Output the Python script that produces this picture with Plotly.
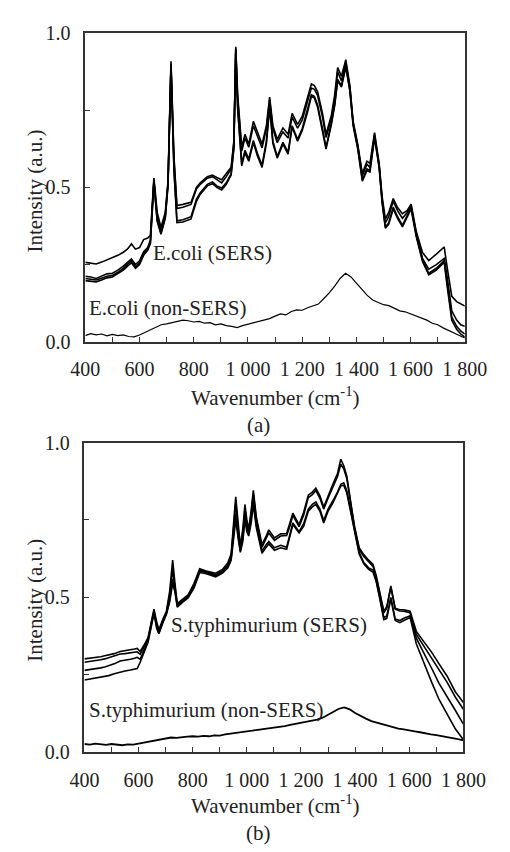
import plotly.graph_objects as go

# ---------------- Panel (a): E.coli ----------------
wn_a = [400, 420, 440, 460, 480, 500, 520, 540, 555, 570, 585, 600, 615, 630, 640, 653, 665, 679, 695, 705,
        716, 727, 738, 760, 790, 810, 824, 850, 869, 885, 903, 920, 938, 948, 955, 962, 977, 989, 1003, 1020,
        1035, 1052, 1068, 1080, 1092, 1108, 1129, 1148, 1163, 1183, 1200, 1220, 1234, 1245, 1257, 1275, 1288,
        1308, 1320, 1331, 1345, 1361, 1376, 1388, 1405, 1422, 1439, 1450, 1467, 1484, 1495, 1507, 1519, 1536,
        1552, 1570, 1587, 1602, 1621, 1644, 1667, 1695, 1715, 1724, 1735, 1752, 1770, 1785, 1800]

ecoli_sers_1 = [0.257, 0.255, 0.252, 0.258, 0.265, 0.271, 0.280, 0.290, 0.300, 0.317, 0.300, 0.305, 0.331, 0.336,
                0.345, 0.530, 0.420, 0.370, 0.420, 0.520, 0.909, 0.600, 0.441, 0.445, 0.452, 0.500, 0.515, 0.535,
                0.540, 0.532, 0.525, 0.545, 0.565, 0.650, 0.956, 0.800, 0.630, 0.672, 0.640, 0.714, 0.680, 0.640,
                0.700, 0.793, 0.700, 0.656, 0.693, 0.672, 0.740, 0.704, 0.730, 0.790, 0.835, 0.830, 0.810, 0.740,
                0.672, 0.735, 0.800, 0.888, 0.860, 0.914, 0.830, 0.714, 0.640, 0.545, 0.585, 0.578, 0.678, 0.578,
                0.470, 0.398, 0.418, 0.464, 0.435, 0.415, 0.425, 0.446, 0.357, 0.289, 0.263, 0.284, 0.300, 0.307,
                0.241, 0.147, 0.130, 0.122, 0.116]
ecoli_sers_2 = [0.212, 0.210, 0.205, 0.212, 0.220, 0.222, 0.232, 0.245, 0.255, 0.268, 0.250, 0.262, 0.292, 0.305,
                0.330, 0.525, 0.405, 0.360, 0.410, 0.515, 0.900, 0.590, 0.432, 0.436, 0.445, 0.495, 0.510, 0.530,
                0.535, 0.525, 0.515, 0.535, 0.560, 0.645, 0.950, 0.790, 0.618, 0.660, 0.630, 0.700, 0.665, 0.628,
                0.690, 0.785, 0.690, 0.645, 0.680, 0.660, 0.728, 0.692, 0.718, 0.778, 0.822, 0.818, 0.798, 0.728,
                0.662, 0.722, 0.785, 0.875, 0.845, 0.905, 0.825, 0.710, 0.635, 0.538, 0.575, 0.565, 0.672, 0.572,
                0.462, 0.385, 0.405, 0.455, 0.425, 0.400, 0.418, 0.440, 0.350, 0.270, 0.235, 0.250, 0.262, 0.270,
                0.210, 0.100, 0.070, 0.055, 0.050]
ecoli_sers_3 = [0.205, 0.203, 0.200, 0.206, 0.212, 0.215, 0.225, 0.238, 0.250, 0.263, 0.243, 0.255, 0.285, 0.300,
                0.322, 0.520, 0.395, 0.352, 0.405, 0.510, 0.895, 0.560, 0.392, 0.395, 0.405, 0.462, 0.483, 0.510,
                0.518, 0.505, 0.498, 0.515, 0.545, 0.630, 0.945, 0.760, 0.578, 0.620, 0.592, 0.652, 0.610, 0.572,
                0.650, 0.765, 0.650, 0.600, 0.646, 0.614, 0.700, 0.656, 0.690, 0.750, 0.800, 0.795, 0.767, 0.690,
                0.630, 0.710, 0.770, 0.850, 0.830, 0.895, 0.815, 0.705, 0.630, 0.525, 0.560, 0.555, 0.665, 0.568,
                0.455, 0.372, 0.385, 0.436, 0.405, 0.378, 0.410, 0.435, 0.345, 0.265, 0.222, 0.238, 0.255, 0.263,
                0.190, 0.080, 0.050, 0.035, 0.025]
ecoli_sers_4 = [0.198, 0.197, 0.194, 0.200, 0.207, 0.210, 0.220, 0.232, 0.244, 0.256, 0.238, 0.250, 0.280, 0.296,
                0.318, 0.515, 0.390, 0.348, 0.400, 0.505, 0.890, 0.555, 0.386, 0.388, 0.398, 0.455, 0.478, 0.505,
                0.512, 0.500, 0.492, 0.510, 0.540, 0.625, 0.940, 0.755, 0.570, 0.612, 0.585, 0.645, 0.602, 0.565,
                0.642, 0.758, 0.642, 0.595, 0.640, 0.608, 0.695, 0.650, 0.684, 0.744, 0.795, 0.790, 0.760, 0.684,
                0.624, 0.705, 0.765, 0.845, 0.825, 0.890, 0.812, 0.700, 0.625, 0.520, 0.555, 0.550, 0.660, 0.565,
                0.450, 0.368, 0.380, 0.430, 0.400, 0.372, 0.405, 0.430, 0.340, 0.260, 0.217, 0.232, 0.250, 0.258,
                0.180, 0.070, 0.040, 0.025, 0.015]

wn_plain = list(range(400, 1801, 20))
ecoli_nonsers = [0.020, 0.026, 0.022, 0.025, 0.019, 0.024, 0.020, 0.022, 0.017, 0.016, 0.022, 0.030, 0.040, 0.048,
                 0.055, 0.058, 0.062, 0.066, 0.070, 0.068, 0.064, 0.066, 0.060, 0.062, 0.055, 0.058, 0.052, 0.050,
                 0.046, 0.052, 0.057, 0.060, 0.066, 0.070, 0.075, 0.083, 0.090, 0.087, 0.098, 0.103, 0.102, 0.110,
                 0.115, 0.122, 0.140, 0.158, 0.180, 0.205, 0.222, 0.210, 0.190, 0.170, 0.150, 0.135, 0.128, 0.120,
                 0.117, 0.108, 0.100, 0.097, 0.090, 0.085, 0.078, 0.070, 0.060, 0.055, 0.045, 0.036, 0.028, 0.020,
                 0.012]

# ---------------- Panel (b): S.typhimurium ----------------
wn_b = [400, 420, 440, 460, 475, 490, 510, 532, 550, 570, 585, 595, 606, 620, 635, 647, 657, 667, 675, 690, 703,
        715, 726, 735, 743, 760, 783, 805, 826, 850, 870, 885, 910, 930, 942, 950, 959, 968, 976, 985, 993, 1000,
        1007, 1016, 1024, 1035, 1056, 1070, 1081, 1102, 1125, 1147, 1160, 1170, 1193, 1210, 1227, 1242, 1255,
        1270, 1284, 1300, 1318, 1335, 1347, 1358, 1369, 1385, 1398, 1415, 1432, 1450, 1466, 1478, 1489, 1506,
        1517, 1532, 1548, 1565, 1580, 1603, 1626, 1655, 1683, 1710, 1740, 1770, 1800]

styph_sers_1 = [0.301, 0.303, 0.305, 0.308, 0.311, 0.314, 0.318, 0.325, 0.327, 0.330, 0.333, 0.335, 0.325, 0.345,
                0.370, 0.420, 0.462, 0.420, 0.395, 0.430, 0.455, 0.520, 0.620, 0.540, 0.480, 0.492, 0.508, 0.545,
                0.592, 0.585, 0.582, 0.578, 0.590, 0.612, 0.640, 0.720, 0.825, 0.740, 0.665, 0.720, 0.800, 0.750,
                0.720, 0.780, 0.846, 0.760, 0.670, 0.695, 0.718, 0.692, 0.705, 0.706, 0.740, 0.772, 0.735, 0.775,
                0.830, 0.840, 0.853, 0.828, 0.792, 0.830, 0.866, 0.900, 0.946, 0.925, 0.893, 0.800, 0.728, 0.660,
                0.638, 0.620, 0.606, 0.570, 0.520, 0.455, 0.470, 0.537, 0.465, 0.460, 0.460, 0.455, 0.390, 0.355,
                0.322, 0.285, 0.245, 0.195, 0.160]
styph_sers_2 = [0.290, 0.292, 0.294, 0.298, 0.301, 0.305, 0.310, 0.317, 0.318, 0.320, 0.322, 0.324, 0.316, 0.338,
                0.365, 0.415, 0.458, 0.410, 0.388, 0.425, 0.450, 0.505, 0.590, 0.530, 0.476, 0.488, 0.505, 0.540,
                0.588, 0.582, 0.578, 0.574, 0.585, 0.605, 0.632, 0.705, 0.805, 0.720, 0.658, 0.705, 0.785, 0.738,
                0.715, 0.770, 0.835, 0.750, 0.662, 0.688, 0.708, 0.684, 0.698, 0.700, 0.732, 0.765, 0.728, 0.766,
                0.822, 0.832, 0.845, 0.820, 0.785, 0.820, 0.855, 0.890, 0.930, 0.915, 0.885, 0.795, 0.725, 0.655,
                0.632, 0.615, 0.600, 0.565, 0.515, 0.450, 0.465, 0.532, 0.462, 0.456, 0.455, 0.450, 0.380, 0.340,
                0.305, 0.268, 0.225, 0.178, 0.138]
styph_sers_3 = [0.264, 0.266, 0.268, 0.272, 0.275, 0.279, 0.285, 0.294, 0.296, 0.300, 0.303, 0.306, 0.300, 0.330,
                0.360, 0.410, 0.452, 0.405, 0.385, 0.420, 0.448, 0.490, 0.560, 0.520, 0.472, 0.485, 0.502, 0.535,
                0.585, 0.580, 0.575, 0.570, 0.582, 0.600, 0.625, 0.690, 0.770, 0.700, 0.650, 0.690, 0.765, 0.725,
                0.705, 0.755, 0.815, 0.735, 0.650, 0.668, 0.680, 0.660, 0.668, 0.662, 0.705, 0.740, 0.712, 0.738,
                0.785, 0.800, 0.808, 0.785, 0.748, 0.785, 0.812, 0.840, 0.865, 0.870, 0.845, 0.775, 0.712, 0.645,
                0.612, 0.595, 0.588, 0.555, 0.508, 0.435, 0.440, 0.500, 0.430, 0.425, 0.432, 0.440, 0.368, 0.320,
                0.270, 0.222, 0.180, 0.135, 0.090]
styph_sers_4 = [0.233, 0.236, 0.238, 0.241, 0.243, 0.247, 0.253, 0.259, 0.262, 0.265, 0.268, 0.270, 0.290, 0.322,
                0.355, 0.405, 0.448, 0.400, 0.382, 0.418, 0.445, 0.485, 0.545, 0.515, 0.468, 0.482, 0.498, 0.530,
                0.580, 0.576, 0.570, 0.566, 0.578, 0.595, 0.620, 0.680, 0.750, 0.690, 0.645, 0.680, 0.750, 0.712,
                0.698, 0.740, 0.800, 0.725, 0.642, 0.660, 0.672, 0.652, 0.660, 0.655, 0.698, 0.735, 0.708, 0.730,
                0.778, 0.792, 0.800, 0.778, 0.740, 0.778, 0.805, 0.835, 0.860, 0.862, 0.838, 0.770, 0.708, 0.640,
                0.608, 0.590, 0.582, 0.550, 0.505, 0.428, 0.432, 0.495, 0.425, 0.418, 0.425, 0.435, 0.350, 0.285,
                0.225, 0.170, 0.120, 0.075, 0.040]

styph_nonsers = [0.026, 0.024, 0.027, 0.025, 0.023, 0.026, 0.024, 0.022, 0.025, 0.024, 0.027, 0.030, 0.034, 0.038,
                 0.041, 0.044, 0.047, 0.046, 0.049, 0.050, 0.051, 0.050, 0.052, 0.051, 0.054, 0.053, 0.057, 0.059,
                 0.062, 0.064, 0.066, 0.069, 0.072, 0.074, 0.077, 0.079, 0.082, 0.084, 0.088, 0.091, 0.094, 0.097,
                 0.101, 0.105, 0.111, 0.120, 0.131, 0.140, 0.144, 0.138, 0.126, 0.116, 0.108, 0.100, 0.095, 0.090,
                 0.085, 0.080, 0.076, 0.073, 0.069, 0.067, 0.064, 0.060, 0.057, 0.055, 0.052, 0.050, 0.046, 0.042,
                 0.038]

x_tickvals = list(range(400, 1801, 100))
x_ticktext = ["400", "", "600", "", "800", "", "1 000", "", "1 200", "", "1 400", "", "1 600", "", "1 800"]
y_tickvals = [0, 0.25, 0.5, 0.75, 1.0]
y_ticktext = ["0.0", "", "0.5", "", "1.0"]

W, H = 510, 852
FONT = "Liberation Serif"
TXT = "#222222"

fig = go.Figure()

def add(xs, ys, xa, ya, width):
    fig.add_trace(go.Scatter(x=xs, y=ys, xaxis=xa, yaxis=ya, mode="lines",
                             line=dict(color="black", width=width), showlegend=False, hoverinfo="skip"))

for s in [ecoli_sers_1, ecoli_sers_2, ecoli_sers_3, ecoli_sers_4]:
    add(wn_a, s, "x", "y", 1.6)
add(wn_plain, ecoli_nonsers, "x", "y", 1.2)
for s in [styph_sers_1, styph_sers_2, styph_sers_3, styph_sers_4]:
    add(wn_b, s, "x2", "y2", 1.6)
add(wn_plain, styph_nonsers, "x2", "y2", 1.8)

def px_x(p):
    return p / W

def px_y(p):
    return 1 - p / H

axis_common = dict(showgrid=False, zeroline=False, showline=True, linecolor="#333333", linewidth=1.5,
                   mirror=True, ticks="inside", ticklen=5, tickwidth=1.2, tickcolor="#333333",
                   tickfont=dict(family=FONT, size=20, color=TXT))

fig.update_layout(
    width=W, height=H, margin=dict(l=0, r=0, t=0, b=0),
    paper_bgcolor="white", plot_bgcolor="white",
    font=dict(family=FONT, color=TXT),
    xaxis=dict(domain=[px_x(76), px_x(486)], range=[400, 1800], anchor="y",
               tickvals=x_tickvals, ticktext=x_ticktext, ticklabelstandoff=9, **axis_common),
    yaxis=dict(domain=[px_y(339.5), px_y(22.7)], range=[0, 1], anchor="x",
               tickvals=y_tickvals, ticktext=y_ticktext, ticklabelstandoff=9, **axis_common),
    xaxis2=dict(domain=[px_x(75), px_x(484.5)], range=[400, 1800], anchor="y2",
                tickvals=x_tickvals, ticktext=x_ticktext, ticklabelstandoff=9, **axis_common),
    yaxis2=dict(domain=[px_y(760.7), px_y(443)], range=[0, 1], anchor="x2",
                tickvals=y_tickvals, ticktext=y_ticktext, ticklabelstandoff=9, **axis_common),
)

def note(text, x, y, xanchor="center", size=21, angle=0):
    fig.add_annotation(text=text, x=px_x(x), y=px_y(y), xref="paper", yref="paper",
                       xanchor=xanchor, yanchor="middle", showarrow=False, textangle=angle,
                       font=dict(family=FONT, size=size, color=TXT))

# axis titles and captions
note("Wavenumber (cm<sup>-1</sup>)", 281, 396)
note("Intensity (a.u.)", 22, 185, angle=-90)
note("(a)", 263, 425)
note("Wavenumber (cm<sup>-1</sup>)", 281, 815)
note("Intensity (a.u.)", 22, 605, angle=-90)
note("(b)", 263, 844)

# in-plot labels
note("E.coli (SERS)", 147, 248, xanchor="left")
note("E.coli (non-SERS)", 78, 305, xanchor="left")
note("S.typhimurium (SERS)", 166, 630, xanchor="left")
note("S.typhimurium (non-SERS)", 78, 718, xanchor="left")

fig.write_html("out.html")
